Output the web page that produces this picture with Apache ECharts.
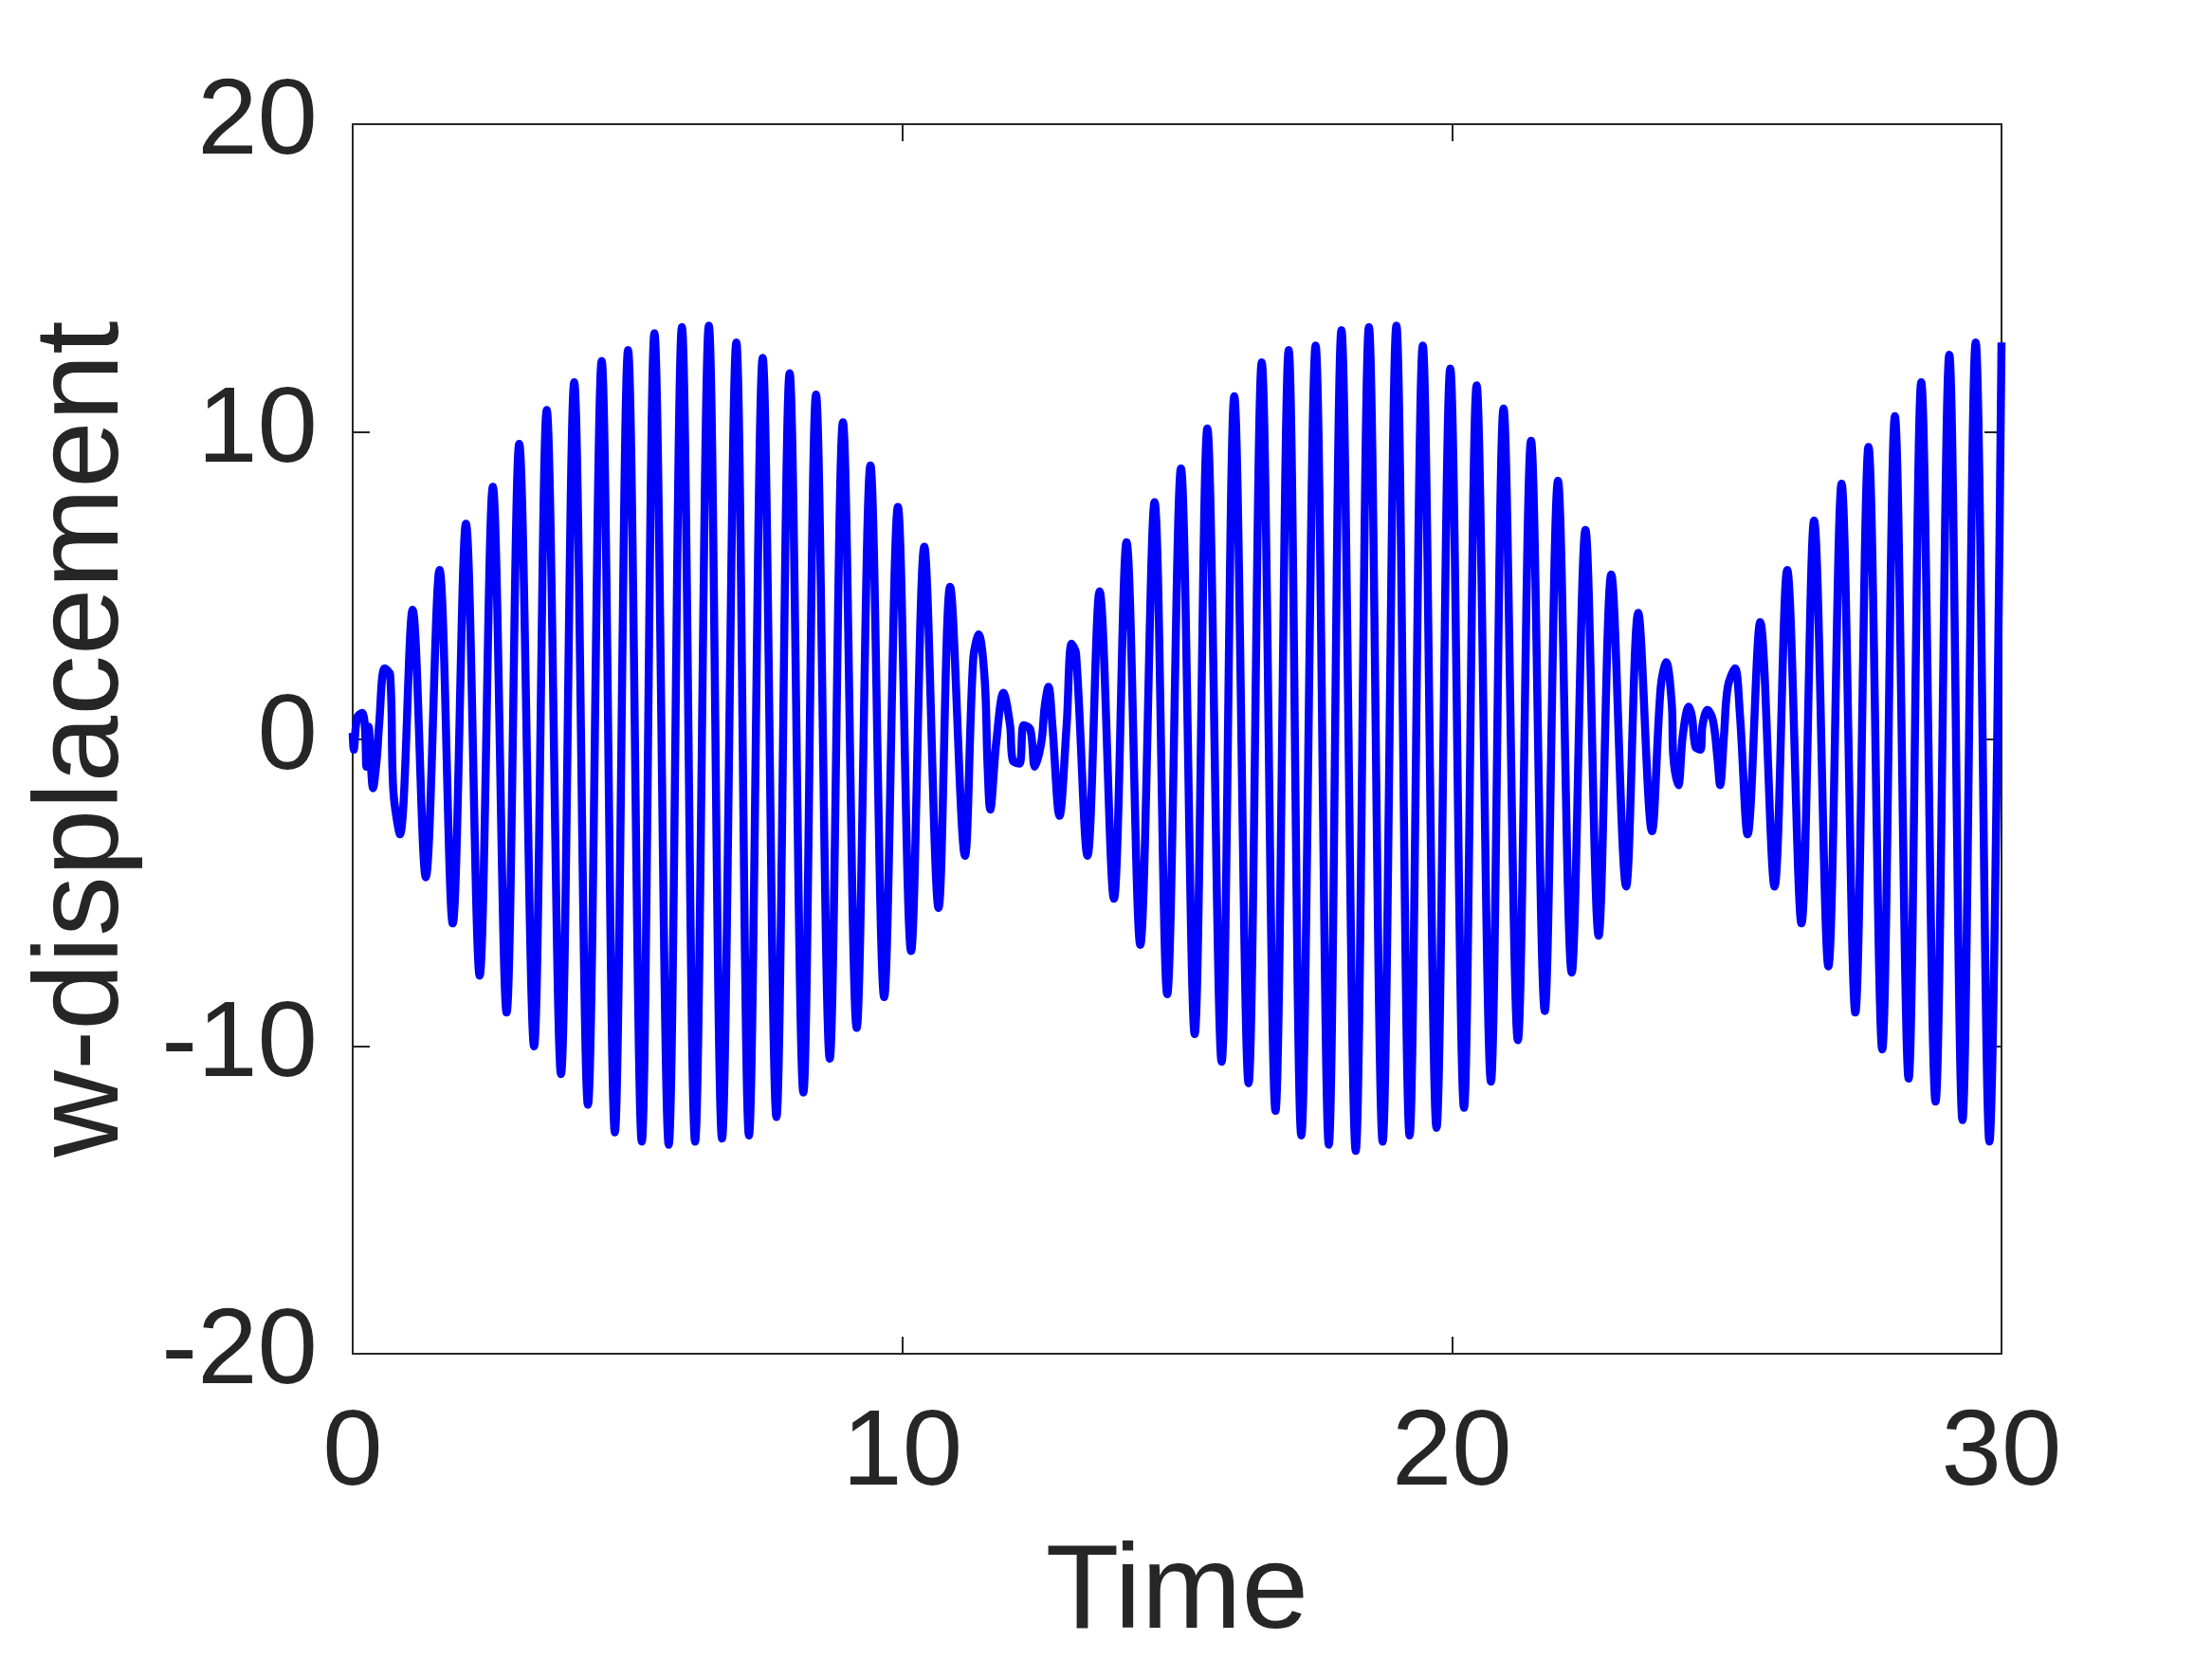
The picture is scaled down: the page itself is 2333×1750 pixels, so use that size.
<!DOCTYPE html>
<html>
<head>
<meta charset="utf-8">
<title>w-displacement</title>
<script src="https://cdn.jsdelivr.net/npm/echarts@6/dist/echarts.min.js"></script>
<style>
  html, body { margin: 0; padding: 0; background: #fff; }
  #chart { width: 2333px; height: 1750px; }
</style>
</head>
<body>
<div id="chart"></div>
<script>
// turning points (time, w)
var timeVals = [
  0.00, 0.02, 0.08, 0.17, 0.22, 0.25, 0.29, 0.37, 0.44, 0.48, 0.58, 0.68, 0.74, 0.86,
  1.09, 1.33, 1.58, 1.82, 2.06, 2.31, 2.55, 2.80, 3.03, 3.30, 3.53, 3.79, 4.03, 4.28,
  4.53, 4.77, 5.01, 5.26, 5.49, 5.75, 5.99, 6.23, 6.48, 6.72, 6.98, 7.21, 7.46, 7.71,
  7.95, 8.20, 8.43, 8.68, 8.92, 9.17, 9.42, 9.67, 9.92, 10.16, 10.40, 10.66, 10.87, 11.14,
  11.29, 11.39, 11.50, 11.55, 11.60, 11.71, 11.84, 11.96, 12.01, 12.13, 12.21, 12.33, 12.41,
  12.53, 12.59, 12.66, 12.73, 12.86, 12.99, 13.08, 13.16, 13.37, 13.59, 13.85, 14.08, 14.33,
  14.59, 14.82, 15.07, 15.32, 15.55, 15.81, 16.04, 16.30, 16.54, 16.79, 17.03, 17.26, 17.52,
  17.76, 17.99, 18.25, 18.49, 18.74, 18.99, 19.23, 19.47, 19.72, 19.97, 20.22, 20.45, 20.71,
  20.94, 21.20, 21.44, 21.69, 21.93, 22.18, 22.43, 22.67, 22.90, 23.17, 23.39, 23.64, 23.80,
  23.90, 24.00, 24.03, 24.12, 24.20, 24.31, 24.37, 24.43, 24.52, 24.56, 24.65, 24.75, 24.83,
  24.88, 24.95, 25.02, 25.15, 25.24, 25.38, 25.61, 25.87, 26.10, 26.36, 26.59, 26.85, 27.09,
  27.34, 27.58, 27.83, 28.06, 28.31, 28.54, 28.80, 29.05, 29.29, 29.53, 29.78, 30.00
];
var dispVals = [
  0.2, -0.35, 0.7, 0.85, 0.45, -0.9, 0.4, -1.6, -0.6, 0.45, 2.3, 2.1, -1.7, -3.1,
  4.2, -4.5, 5.5, -6.0, 7.0, -7.7, 8.2, -8.9, 9.6, -10.0, 10.7, -10.9, 11.6, -11.9,
  12.3, -12.8, 12.65, -13.1, 13.2, -13.2, 13.4, -13.1, 13.45, -13.0, 12.9, -12.9, 12.4, -12.3,
  11.9, -11.5, 11.2, -10.4, 10.3, -9.4, 8.9, -8.4, 7.55, -6.9, 6.25, -5.5, 4.95, -3.8,
  2.6, 3.4, 1.9, -0.8, -2.3, -0.1, 1.5, 0.45, -0.7, -0.8, 0.45, 0.3, -0.9,
  -0.1, 1.05, 1.7, 0.45, -2.5, 0.45, 3.1, 2.8, -3.8, 4.8, -5.2, 6.4, -6.7,
  7.7, -8.3, 8.8, -9.6, 10.1, -10.5, 11.15, -11.2, 12.25, -12.1, 12.65, -12.9, 12.8,
  -13.2, 13.3, -13.4, 13.4, -13.1, 13.45, -12.9, 12.8, -12.65, 12.05, -12.0, 11.5, -11.15,
  10.75, -9.8, 9.7, -8.85, 8.4, -7.6, 6.8, -6.4, 5.35, -4.8, 4.1, -3.0, 1.7,
  2.5, 1.15, -0.6, -1.5, 0.1, 1.05, 0.7, -0.25, -0.35, 0.45, 0.95, 0.6, -0.6,
  -1.5, 0.1, 1.7, 2.3, 0.8, -3.1, 3.8, -4.8, 5.5, -6.0, 7.1, -7.4, 8.3,
  -8.9, 9.5, -10.1, 10.5, -11.05, 11.6, -11.8, 12.5, -12.4, 12.9, -13.1, 12.9
];
var xTicks = [0, 10, 20, 30];
var yTicks = [-20, -10, 0, 10, 20];

var chart = echarts.init(document.getElementById('chart'));
var axisColor = '#262626';
var font = 'Liberation Sans, Arial, Helvetica, sans-serif';

var seriesData = timeVals.map(function (t, i) { return [t, dispVals[i]]; });

var option = {
  animation: false,
  backgroundColor: '#ffffff',
  grid: { left: 372, right: 222, top: 131, bottom: 322, containLabel: false },
  xAxis: [
    {
      type: 'value',
      min: xTicks[0], max: xTicks[xTicks.length - 1], interval: 10,
      name: 'Time', nameLocation: 'middle', nameGap: 190,
      nameTextStyle: { fontSize: 127, color: axisColor, fontFamily: font },
      axisLine: { show: true, onZero: false, lineStyle: { color: axisColor, width: 2 } },
      axisTick: { show: true, inside: true, length: 18, lineStyle: { color: axisColor, width: 2 } },
      axisLabel: { fontSize: 114, color: axisColor, fontFamily: font, margin: 50 },
      splitLine: { show: false }
    },
    {
      type: 'value', position: 'top',
      min: xTicks[0], max: xTicks[xTicks.length - 1], interval: 10,
      axisLine: { show: true, onZero: false, lineStyle: { color: axisColor, width: 2 } },
      axisTick: { show: true, inside: true, length: 18, lineStyle: { color: axisColor, width: 2 } },
      axisLabel: { show: false },
      splitLine: { show: false }
    }
  ],
  yAxis: [
    {
      type: 'value',
      min: yTicks[0], max: yTicks[yTicks.length - 1], interval: 10,
      name: 'w-displacement', nameLocation: 'middle', nameGap: 220,
      nameTextStyle: { fontSize: 127, color: axisColor, fontFamily: font },
      axisLine: { show: true, onZero: false, lineStyle: { color: axisColor, width: 2 } },
      axisTick: { show: true, inside: true, length: 18, lineStyle: { color: axisColor, width: 2 } },
      axisLabel: { fontSize: 114, color: axisColor, fontFamily: font, margin: 37 },
      splitLine: { show: false }
    },
    {
      type: 'value', position: 'right',
      min: yTicks[0], max: yTicks[yTicks.length - 1], interval: 10,
      axisLine: { show: true, onZero: false, lineStyle: { color: axisColor, width: 2 } },
      axisTick: { show: true, inside: true, length: 18, lineStyle: { color: axisColor, width: 2 } },
      axisLabel: { show: false },
      splitLine: { show: false }
    }
  ],
  series: [{
    name: 'w',
    type: 'line',
    data: seriesData,
    showSymbol: false,
    smooth: 0.35,
    lineStyle: { color: '#0000ff', width: 8.5 },
    z: 3
  }]
};

chart.setOption(option);
</script>
</body>
</html>
